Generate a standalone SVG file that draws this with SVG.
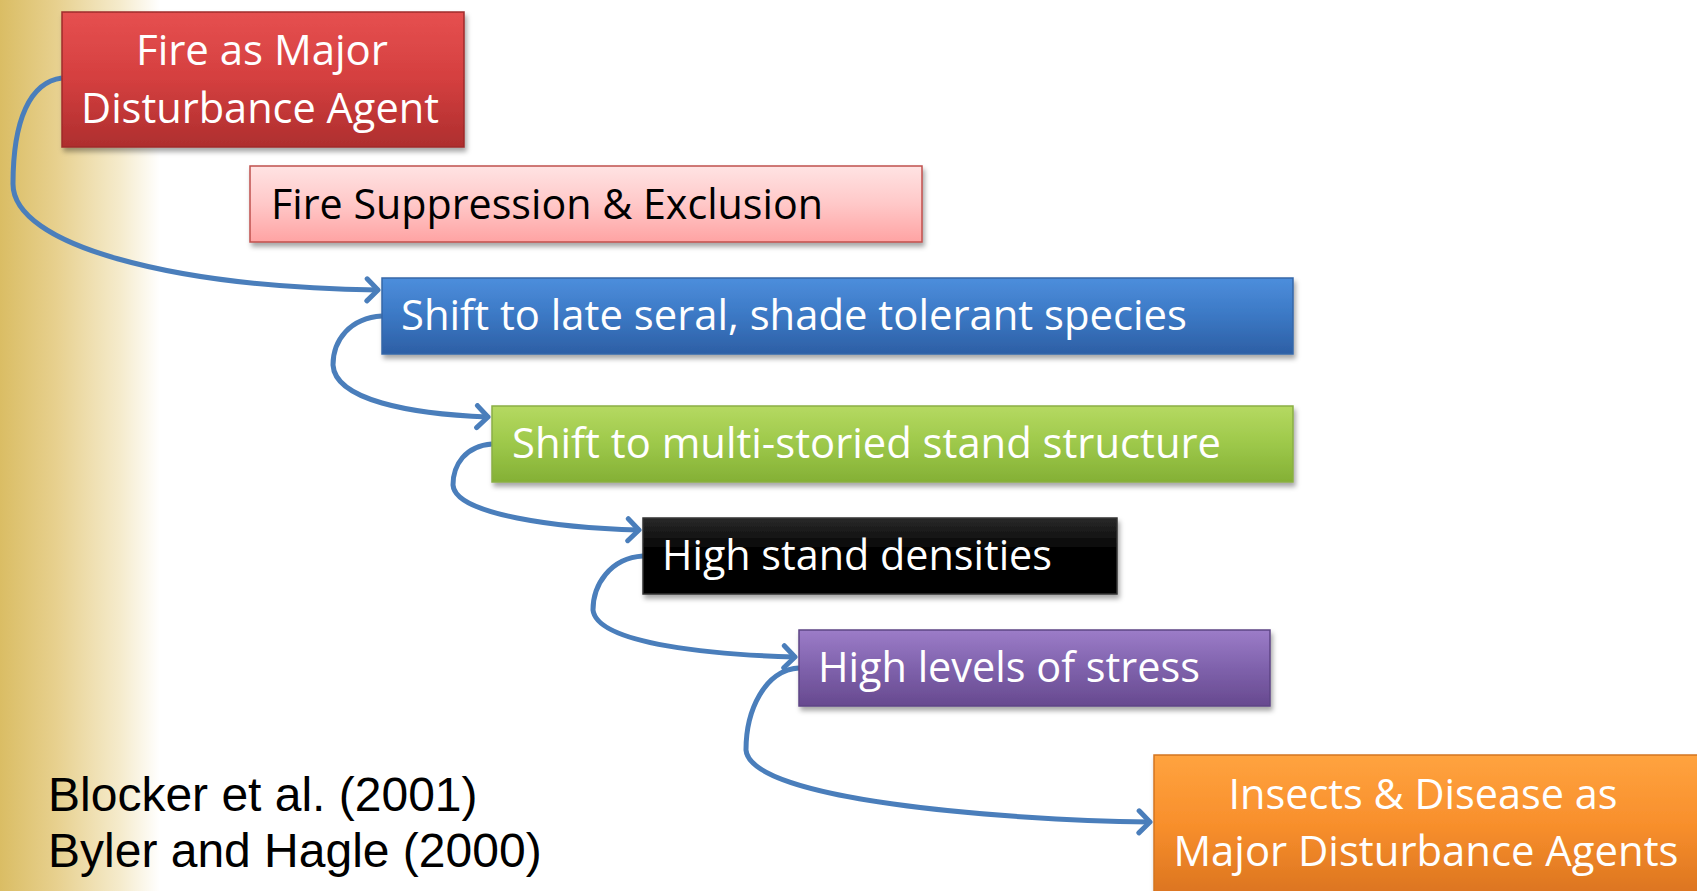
<svg xmlns="http://www.w3.org/2000/svg" width="1697" height="891" viewBox="0 0 1697 891">
<defs>
<linearGradient id="bg" x1="0" y1="0" x2="1" y2="0" gradientUnits="objectBoundingBox">
<stop offset="0" stop-color="#DABD64"/>
<stop offset="0.35" stop-color="#E7D08E"/>
<stop offset="0.75" stop-color="#F5EBCC"/>
<stop offset="1" stop-color="#FFFFFF"/>
</linearGradient>
<linearGradient id="gRed" x1="0" y1="0" x2="0" y2="1"><stop offset="0" stop-color="#E65050"/><stop offset="0.5" stop-color="#D43F3F"/><stop offset="1" stop-color="#AE2E2E"/></linearGradient>
<linearGradient id="gPink" x1="0" y1="0" x2="0" y2="1"><stop offset="0" stop-color="#FFE3E3"/><stop offset="0.5" stop-color="#FFC8C8"/><stop offset="1" stop-color="#FFA3A3"/></linearGradient>
<linearGradient id="gBlue" x1="0" y1="0" x2="0" y2="1"><stop offset="0" stop-color="#4D8EDC"/><stop offset="0.5" stop-color="#3B78C4"/><stop offset="1" stop-color="#2D5FA5"/></linearGradient>
<linearGradient id="gGreen" x1="0" y1="0" x2="0" y2="1"><stop offset="0" stop-color="#B5D961"/><stop offset="0.5" stop-color="#9DC84A"/><stop offset="1" stop-color="#84B035"/></linearGradient>
<linearGradient id="gBlack" x1="0" y1="0" x2="0" y2="1"><stop offset="0" stop-color="#2A2A2A"/><stop offset="0.4" stop-color="#050505"/><stop offset="1" stop-color="#000000"/></linearGradient>
<linearGradient id="gPurple" x1="0" y1="0" x2="0" y2="1"><stop offset="0" stop-color="#9C7CC8"/><stop offset="0.5" stop-color="#7F62AC"/><stop offset="1" stop-color="#67498F"/></linearGradient>
<linearGradient id="gOrange" x1="0" y1="0" x2="0" y2="1"><stop offset="0" stop-color="#FFA33F"/><stop offset="0.5" stop-color="#F88F2C"/><stop offset="1" stop-color="#DB7420"/></linearGradient>
<filter id="shadow" x="-5%" y="-10%" width="110%" height="130%">
<feDropShadow dx="2" dy="4" stdDeviation="2.5" flood-color="#000" flood-opacity="0.35"/>
</filter>
<marker id="arrow" markerWidth="18" markerHeight="28" refX="14" refY="14" orient="auto" markerUnits="userSpaceOnUse">
<polyline points="3,3 14,14 3,25" fill="none" stroke="#4A7EBB" stroke-width="5" stroke-linecap="round" stroke-linejoin="round"/>
</marker>
<style>
.box{filter:url(#shadow);stroke-width:1.5}
.lbl{font-family:"Open Sans","Noto Sans",sans-serif;font-size:42px}
.w{fill:#FFFFFF}
.k{fill:#000000}
.cite{font-family:"Liberation Sans",Arial,sans-serif;font-size:48px;fill:#000}
.conn{fill:none;stroke:#4A7EBB;stroke-width:5;marker-end:url(#arrow)}
</style>
</defs>
<rect x="0" y="0" width="1697" height="891" fill="#FFFFFF"/>
<rect x="0" y="0" width="160" height="891" fill="url(#bg)"/>

<g id="connectors">
<path class="conn" d="M62,78 C30,82 13,120 13,184 C13,245 170,287 378,290"/>
<path class="conn" d="M382,316 C350,318 333,340 333,365 C335,400 410,414 488,417"/>
<path class="conn" d="M492,444 C465,446 453,465 453,485 C455,515 560,528 639,530"/>
<path class="conn" d="M643,556 C610,558 593,585 593,610 C597,645 720,655 795,657"/>
<path class="conn" d="M799,668 C765,670 746,710 746,750 C750,800 1000,820 1150,822"/>
</g>

<g id="node-fire">
<rect class="box" x="62" y="12" width="402" height="135" fill="url(#gRed)" stroke="#9E2B2B"/>
<text class="lbl w" x="262" y="65" text-anchor="middle" textLength="252" lengthAdjust="spacingAndGlyphs">Fire as Major</text>
<text class="lbl w" x="260" y="123" text-anchor="middle" textLength="358" lengthAdjust="spacingAndGlyphs">Disturbance Agent</text>
</g>

<g id="node-suppression">
<rect class="box" x="250" y="166" width="672" height="76" fill="url(#gPink)" stroke="#C0504D"/>
<text class="lbl k" x="271" y="219" textLength="552" lengthAdjust="spacingAndGlyphs">Fire Suppression &amp; Exclusion</text>
</g>

<g id="node-lateseral">
<rect class="box" x="382" y="278" width="911" height="76" fill="url(#gBlue)" stroke="#3567A8"/>
<text class="lbl w" x="401" y="330" textLength="786" lengthAdjust="spacingAndGlyphs">Shift to late seral, shade tolerant species</text>
</g>

<g id="node-multistory">
<rect class="box" x="492" y="406" width="801" height="76" fill="url(#gGreen)" stroke="#8AAF45"/>
<text class="lbl w" x="512" y="458" textLength="709" lengthAdjust="spacingAndGlyphs">Shift to multi-storied stand structure</text>
</g>

<g id="node-density">
<rect class="box" x="643" y="518" width="474" height="76" fill="url(#gBlack)" stroke="#333333"/>
<text class="lbl w" x="662" y="570" textLength="390" lengthAdjust="spacingAndGlyphs">High stand densities</text>
</g>

<g id="node-stress">
<rect class="box" x="799" y="630" width="471" height="76" fill="url(#gPurple)" stroke="#5E4585"/>
<text class="lbl w" x="818" y="682" textLength="382" lengthAdjust="spacingAndGlyphs">High levels of stress</text>
</g>

<g id="node-insects">
<rect class="box" x="1154" y="755" width="550" height="140" fill="url(#gOrange)" stroke="#D4761F"/>
<text class="lbl w" x="1423" y="809" text-anchor="middle" textLength="389" lengthAdjust="spacingAndGlyphs">Insects &amp; Disease as</text>
<text class="lbl w" x="1426" y="866" text-anchor="middle" textLength="505" lengthAdjust="spacingAndGlyphs">Major Disturbance Agents</text>
</g>

<g id="citations">
<text class="cite" x="48" y="811">Blocker et al. (2001)</text>
<text class="cite" x="48" y="867">Byler and Hagle (2000)</text>
</g>
</svg>
